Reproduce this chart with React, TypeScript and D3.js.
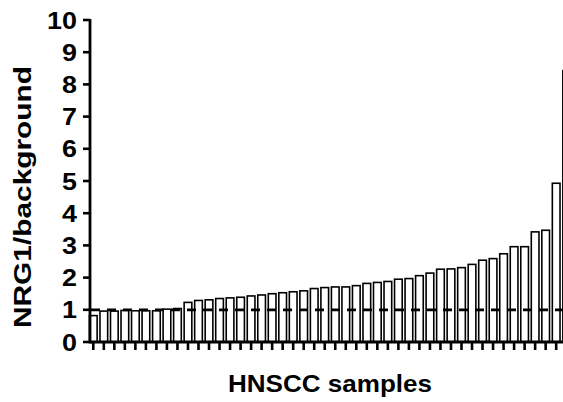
import React from "react";
import * as d3 from "d3";

const values: number[] = [
  0.82, 0.96, 0.96, 0.98, 0.97, 0.97, 0.97, 1.02, 1.04, 1.23,
  1.29, 1.31, 1.35, 1.37, 1.39, 1.43, 1.46, 1.5, 1.53, 1.56,
  1.59, 1.66, 1.69, 1.71, 1.71, 1.75, 1.82, 1.85, 1.88, 1.95,
  1.97, 2.06, 2.14, 2.26, 2.27, 2.31, 2.41, 2.54, 2.59, 2.74,
  2.96, 2.96, 3.42, 3.47, 4.93, 8.43,
];
const yTicks: number[] = [0, 1, 2, 3, 4, 5, 6, 7, 8, 9, 10];
const refLine = 1;
const yLabel = "NRG1/background";
const xLabel = "HNSCC samples";

export default function App() {
  const W = 563, H = 402;
  const axisX = 90;
  const step = 10.52;
  const x0 = 93.3 - step / 2;
  const x = d3
    .scaleBand<number>()
    .domain(values.map((_, i) => i))
    .range([x0, x0 + step * values.length])
    .paddingInner(0.27)
    .paddingOuter(0.135);
  const y = d3.scaleLinear().domain([0, 10]).range([342, 20]);
  const font = "'Liberation Sans', Arial, sans-serif";

  return (
    <svg
      width={W}
      height={H}
      style={{ position: "absolute", left: 0, top: 0, background: "#fff" }}
    >
      {values.map((v, i) => (
        <rect
          key={i}
          x={x(i)!}
          y={y(v)}
          width={x.bandwidth()}
          height={y(0) - y(v)}
          fill="#fff"
          stroke="#000"
          strokeWidth={1.6}
        />
      ))}
      {values.map((_, i) => (
        <line
          key={"xt" + i}
          x1={x(i)! + x.bandwidth() / 2}
          x2={x(i)! + x.bandwidth() / 2}
          y1={y(0)}
          y2={y(0) + 8}
          stroke="#000"
          strokeWidth={2.6}
        />
      ))}
      <line
        x1={axisX + 1}
        x2={W}
        y1={y(refLine)}
        y2={y(refLine)}
        stroke="#000"
        strokeWidth={2.8}
        strokeDasharray="9 7"
      />
      <line x1={axisX} x2={W} y1={y(0)} y2={y(0)} stroke="#000" strokeWidth={2.8} />
      <line x1={axisX} x2={axisX} y1={y(10) - 1} y2={y(0) + 1.4} stroke="#000" strokeWidth={2.8} />
      {yTicks.map((t) => (
        <g key={"yt" + t}>
          <line x1={axisX - 7} x2={axisX} y1={y(t)} y2={y(t)} stroke="#000" strokeWidth={2.6} />
          <text
            transform={`translate(77,${y(t)}) scale(1.12,1)`}
            dy="0.36em"
            textAnchor="end"
            fontFamily={font}
            fontWeight="bold"
            fontSize={24}
            fill="#000"
          >
            {t}
          </text>
        </g>
      ))}
      <text
        transform={`translate(31,197) rotate(-90)`}
        textAnchor="middle"
        fontFamily={font}
        fontWeight="bold"
        fontSize={24}
        textLength={262}
        lengthAdjust="spacingAndGlyphs"
        fill="#000"
      >
        {yLabel}
      </text>
      <text
        x={330}
        y={392}
        textAnchor="middle"
        fontFamily={font}
        fontWeight="bold"
        fontSize={24}
        textLength={204}
        lengthAdjust="spacingAndGlyphs"
        fill="#000"
      >
        {xLabel}
      </text>
    </svg>
  );
}
